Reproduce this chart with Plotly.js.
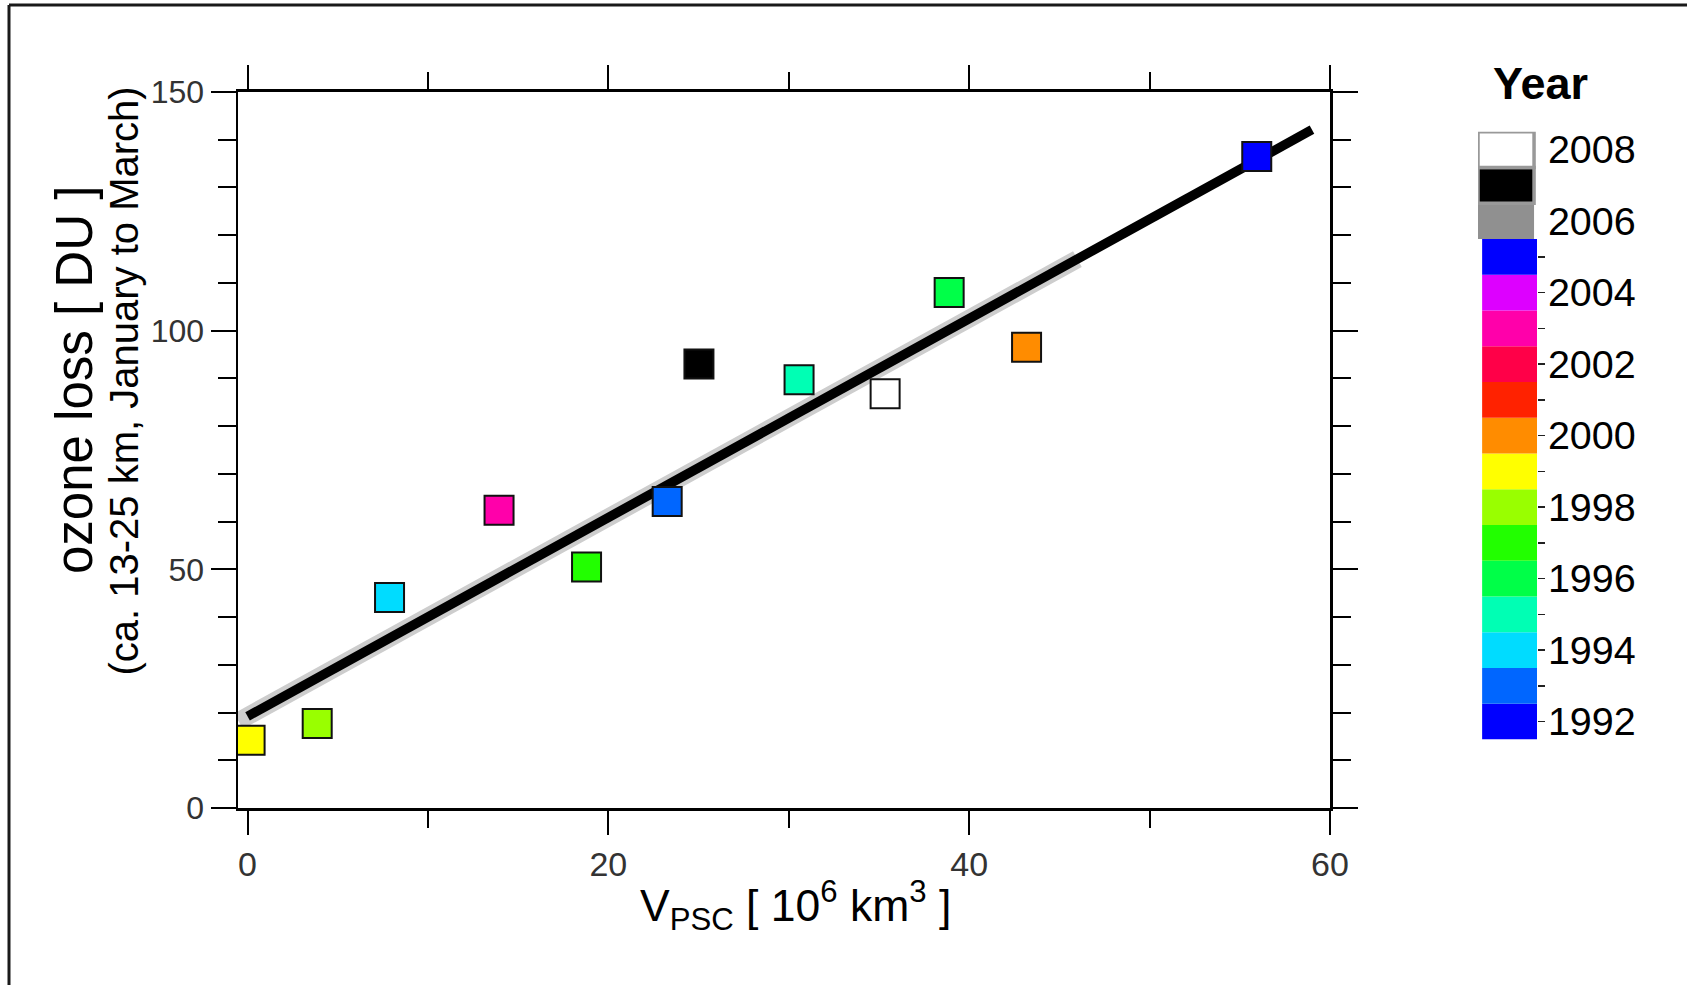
<!DOCTYPE html>
<html>
<head>
<meta charset="utf-8">
<script src="https://cdn.plot.ly/plotly-3.0.1.min.js"></script>
<style>
  html, body { margin: 0; padding: 0; background: #fff; }
  #chart { width: 1687px; height: 985px; }
</style>
</head>
<body>
<div id="chart"></div>
<script>
// ---------------- data ----------------
const years     = [1999, 1998, 1994, 2003, 1997, 1993, 2007, 1995, 2008, 1996, 2000, 2005];
const vpsc      = [0.14, 3.86, 7.87, 13.94, 18.79, 23.26, 25.02, 30.57, 35.34, 38.89, 43.18, 55.94];
const ozoneLoss = [14.2, 17.7, 44.1, 62.4, 50.5, 64.2, 93.0, 89.7, 86.8, 108.0, 96.5, 136.5];

const fitX  = [0, 59];
const fitY  = [19.2, 142.1];
const bandX = [-0.5, 46];
const bandY = [18.2, 115.0];

const legendYears  = [1992, 1993, 1994, 1995, 1996, 1997, 1998, 1999, 2000, 2001, 2002, 2003, 2004, 2005, 2006, 2007, 2008];
const legendColors = ['#0000ff', '#0066ff', '#00dcff', '#00ffb4', '#00ff48', '#22ff00', '#99ff00', '#ffff00',
                      '#ff8c00', '#ff2200', '#ff0048', '#ff00aa', '#dd00ff', '#0000ff', '#909090', '#000000', '#ffffff'];
const legendLabelYears = [1992, 1994, 1996, 1998, 2000, 2002, 2004, 2006, 2008];
const legendTickYears  = [1992, 1993, 1994, 1995, 1996, 1997, 1998, 1999, 2000, 2001, 2002, 2003, 2004, 2005];

const xTicks = [0, 20, 40, 60];
const yTicks = [0, 50, 100, 150];

// ---------------- geometry helpers ----------------
const W = 1687, H = 985;
const M = { l: 238, r: 87, t: 92, b: 177 };
const PW = W - M.l - M.r, PH = H - M.t - M.b;
const px = v => (v - M.l) / PW;
const py = v => (H - M.b - v) / PH;
const FONT = 'Liberation Sans, Arial, Helvetica, sans-serif';

const colorOf = y => legendColors[legendYears.indexOf(y)];

// ---------------- traces ----------------
const band = {
  type: 'scatter', mode: 'lines', x: bandX, y: bandY,
  line: { color: '#cdcdcd', width: 18 }, hoverinfo: 'skip', xaxis: 'x', yaxis: 'y'
};
const fit = {
  type: 'scatter', mode: 'lines', x: fitX, y: fitY,
  line: { color: '#000', width: 9.5 }, hoverinfo: 'skip', xaxis: 'x', yaxis: 'y'
};
const pts = {
  type: 'scatter', mode: 'markers', x: vpsc, y: ozoneLoss, text: years.map(String),
  marker: { symbol: 'square', size: 29, color: years.map(colorOf), line: { color: '#111', width: 2 } },
  xaxis: 'x', yaxis: 'y'
};
const isTop = y => y >= 2006;
const legendBar = {
  type: 'bar', orientation: 'h', xaxis: 'x2', yaxis: 'y2',
  y: legendYears,
  x: legendYears.map(y => isTop(y) ? 0.95 : 0.93),
  base: legendYears.map(y => isTop(y) ? 0 : 0.07),
  width: 1,
  marker: {
    color: legendColors,
    line: {
      color: legendYears.map(y => y >= 2007 ? '#999' : '#555'),
      width: legendYears.map(y => y >= 2007 ? 3.5 : 0)
    }
  },
  hoverinfo: 'skip'
};

// ---------------- layout ----------------
const layout = {
  width: W, height: H, margin: M,
  paper_bgcolor: '#fff', plot_bgcolor: 'rgba(0,0,0,0)',
  showlegend: false, bargap: 0,
  font: { family: FONT, color: '#000' },
  xaxis: {
    domain: [0, (1330 - M.l) / PW], range: [-0.53, 60], anchor: 'y',
    tickmode: 'array', tickvals: xTicks, ticks: 'outside', ticklen: 24, tickwidth: 2, tickcolor: '#000',
    showline: true, linewidth: 3, linecolor: '#000', mirror: 'ticks',
    showgrid: false, zeroline: false,
    tickfont: { size: 34, color: '#333' },
    minor: { dtick: 10, tick0: 0, ticks: 'outside', ticklen: 17, tickwidth: 2, tickcolor: '#000', showgrid: false }
  },
  yaxis: {
    domain: [0, 1], range: [0, 150], anchor: 'x',
    tickmode: 'array', tickvals: yTicks, ticks: 'outside', ticklen: 25, tickwidth: 2, tickcolor: '#000',
    showline: true, linewidth: 2.5, linecolor: '#000', mirror: 'ticks',
    showgrid: false, zeroline: false,
    tickfont: { size: 32, color: '#333' }, ticklabelstandoff: 0,
    minor: { dtick: 10, tick0: 0, ticks: 'outside', ticklen: 18, tickwidth: 2, tickcolor: '#000', showgrid: false }
  },
  xaxis2: { domain: [px(1478), px(1537)], range: [0, 1], anchor: 'y2', visible: false, fixedrange: true },
  yaxis2: {
    domain: [py(739.5), py(131.7)], range: [1991.5, 2008.5], anchor: 'x2', side: 'right',
    tickmode: 'array', tickvals: legendLabelYears, ticktext: legendLabelYears.map(String),
    ticks: 'outside', ticklen: 0, showline: false, showgrid: false, zeroline: false,
    tickfont: { size: 39.5, color: '#000' }, ticklabelstandoff: 2, fixedrange: true,
    minor: { tickmode: 'array', tickvals: legendTickYears, ticks: 'outside', ticklen: 7, tickwidth: 1.5, tickcolor: '#222', showgrid: false }
  },
  annotations: [
    { text: 'V<sub>PSC</sub> [ 10<sup>6</sup> km<sup>3</sup> ]', xref: 'paper', yref: 'paper', x: px(795), y: py(906),
      xanchor: 'center', yanchor: 'middle', showarrow: false, font: { size: 44.5, color: '#000' } },
    { text: 'ozone loss [ DU ]', xref: 'paper', yref: 'paper', x: px(74), y: py(380),
      xanchor: 'center', yanchor: 'middle', textangle: -90, showarrow: false, font: { size: 51, color: '#000' } },
    { text: '(ca. 13-25 km, January to March)', xref: 'paper', yref: 'paper', x: px(123), y: py(381.5),
      xanchor: 'center', yanchor: 'middle', textangle: -90, showarrow: false, font: { size: 40, color: '#000' } },
    { text: '<b>Year</b>', xref: 'paper', yref: 'paper', x: px(1540), y: py(83),
      xanchor: 'center', yanchor: 'middle', showarrow: false, font: { size: 45, color: '#000' } }
  ],
  shapes: [
    { type: 'line', xref: 'paper', yref: 'paper', x0: px(9), x1: px(9), y0: py(985), y1: py(5), line: { color: '#1a1a1a', width: 3 } },
    { type: 'line', xref: 'paper', yref: 'paper', x0: px(9), x1: px(1687), y0: py(5), y1: py(5), line: { color: '#1a1a1a', width: 3 } }
  ]
};

Plotly.newPlot('chart', [band, fit, pts, legendBar], layout, { displayModeBar: false, staticPlot: true });
</script>
</body>
</html>
